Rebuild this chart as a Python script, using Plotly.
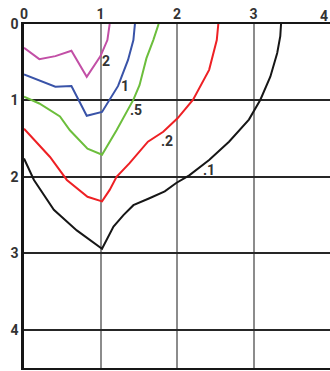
import plotly.graph_objects as go

# ─── Data ────────────────────────────────────────────────────────────────────
x_c2 = [0.0, 0.20, 0.41, 0.62, 0.82, 1.00, 1.09, 1.12]
y_c2 = [0.31, 0.46, 0.42, 0.35, 0.69, 0.42, 0.21, 0.0]

x_c1 = [0.0, 0.20, 0.41, 0.62, 0.82, 1.02, 1.23, 1.36, 1.43, 1.45]
y_c1 = [0.66, 0.74, 0.82, 0.81, 1.20, 1.15, 0.81, 0.47, 0.21, 0.0]

x_c05 = [0.0, 0.20, 0.47, 0.60, 0.83, 1.02, 1.21, 1.43, 1.51, 1.60, 1.69, 1.76]
y_c05 = [0.95, 1.04, 1.21, 1.39, 1.63, 1.71, 1.39, 0.99, 0.80, 0.45, 0.21, 0.0]

x_c02 = [0.0, 0.17, 0.34, 0.56, 0.83, 1.02, 1.12, 1.21, 1.38, 1.62, 1.82, 2.01, 2.21, 2.42, 2.52, 2.54]
y_c02 = [1.37, 1.56, 1.74, 2.04, 2.26, 2.32, 2.17, 2.00, 1.82, 1.54, 1.41, 1.23, 0.99, 0.60, 0.21, 0.0]

x_c01 = [0.0, 0.13, 0.39, 0.69, 1.02, 1.08, 1.17, 1.30, 1.43, 1.64, 1.84, 1.99,
         2.16, 2.42, 2.68, 2.94, 3.09, 3.22, 3.31, 3.35, 3.36]
y_c01 = [1.76, 2.04, 2.43, 2.70, 2.94, 2.82, 2.65, 2.50, 2.37, 2.28, 2.19, 2.08,
         1.98, 1.78, 1.54, 1.25, 0.99, 0.69, 0.38, 0.16, 0.0]

labels   = ["2", "1", ".5", ".2", ".1"]
label_x  = [1.07, 1.32, 1.47, 1.87, 2.42]
label_y  = [0.48, 0.81, 1.12, 1.53, 1.91]

x_ticks = [0, 1, 2, 3, 4]
y_ticks = [0, 1, 2, 3, 4]

# ─── Style ───────────────────────────────────────────────────────────────────
C_MAGENTA = "#C24FA6"
C_BLUE    = "#3953A8"
C_GREEN   = "#6CBE3C"
C_RED     = "#EE2024"
C_BLACK   = "#161616"
_FONT = dict(family="Liberation Sans Narrow, Arial Narrow, Roboto, sans-serif",
             size=14, color="#333333")

curves = [
    (x_c2, y_c2, C_MAGENTA),
    (x_c1, y_c1, C_BLUE),
    (x_c05, y_c05, C_GREEN),
    (x_c02, y_c02, C_RED),
    (x_c01, y_c01, C_BLACK),
]

fig = go.Figure()

for xs, ys, col in curves:
    fig.add_trace(go.Scatter(
        x=xs, y=ys, mode="lines",
        line=dict(color=col, width=2),
        showlegend=False, hoverinfo="skip",
    ))

for txt, lx, ly in zip(labels, label_x, label_y):
    fig.add_annotation(x=lx, y=ly, text="<b>" + txt + "</b>", showarrow=False,
                       font=_FONT)

# last top label sits on the right edge, keep it inside the page
fig.add_annotation(x=x_ticks[-1], y=1, yref="paper", yanchor="bottom",
                   xanchor="right", yshift=-2,
                   text="<b>%d</b>" % x_ticks[-1], showarrow=False, font=_FONT)

# x = 2 grid line is black in the original, others are grey
fig.add_vline(x=x_ticks[2], line_color=C_BLACK, line_width=1.5, layer="below")

fig.update_xaxes(
    range=[0, 4], side="top", automargin=False,
    tickmode="array", tickvals=x_ticks[:-1],
    ticktext=["<b>%d</b>" % v for v in x_ticks[:-1]],
    tickfont=_FONT, ticks="", ticklabelstandoff=-3,
    showgrid=True, gridcolor="#8C8C8C", gridwidth=1.5,
    showline=True, linecolor=C_BLACK, linewidth=2, mirror=True,
    zeroline=False,
)
fig.update_yaxes(
    range=[4.5, 0], automargin=False,
    tickmode="array", tickvals=y_ticks,
    ticktext=["<b>%d</b>" % v for v in y_ticks],
    tickfont=_FONT, ticks="", ticklabelstandoff=0,
    showgrid=True, gridcolor="#262626", gridwidth=1.5,
    showline=True, linecolor=C_BLACK, linewidth=2.5,
    zeroline=False,
)
fig.update_layout(
    width=330, height=371,
    margin=dict(l=24, r=0, t=24, b=3),
    plot_bgcolor="white", paper_bgcolor="white",
    font=_FONT,
)

# drop the default body margin so the figure sits at the page corner
fig.write_html("out.html", config={"displayModeBar": False},
               post_script="document.body.style.margin='0';")
